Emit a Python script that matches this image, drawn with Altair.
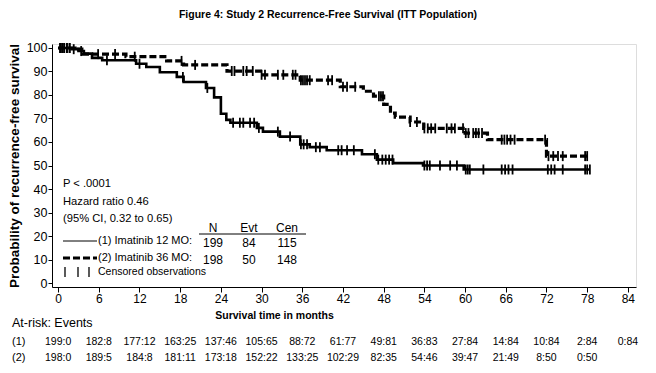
import altair as alt
import pandas as pd

FONT = "Liberation Sans, Arial, Helvetica, sans-serif"

# ---- data ----
t1 = [0, 2, 3, 3.8, 5, 6.5, 11.5, 13, 15, 17.5, 18.5, 21.8, 23, 24, 24.8, 25.4,
      29.3, 30.2, 32.7, 35.7, 37.1, 39.6, 44.8, 47, 49.4, 53.8, 59.8, 78.4]
s1 = [100, 99.5, 98.7, 97.6, 95.8, 94.8, 93.3, 91.9, 89.7, 87.7, 85.5, 83, 79, 72, 69.4, 68.2,
      66, 64.4, 62.3, 59, 57.8, 56.5, 54.8, 52.5, 51, 50, 48.3, 48.3]

t2 = [0, 2.5, 3.5, 10, 16, 18.5, 24.9, 29.8, 35.7, 41.6, 45, 46.5, 48, 49, 49.7,
      51.9, 53.9, 60, 63.3, 72, 78.3]
s2 = [100, 99.5, 97.4, 96.3, 94.5, 92.8, 90.2, 88.6, 86.3, 83.5, 81.6, 79.5, 76, 72.3, 70.6,
      68.5, 65.8, 63.8, 61, 54, 54]

cens1 = [0.3, 0.6, 0.9, 1.3, 1.7, 2.3, 3.4, 7.2, 12, 18.4, 22, 25.8, 26.8, 27.3, 28.3, 28.9,
         29.6, 32.4, 34.2, 35.8, 36.2, 36.7, 38, 38.6, 41.3, 41.8, 42.6, 43.6, 46.7, 47.2,
         47.8, 48.3, 48.8, 49.3, 54, 54.4, 54.8, 56.3, 57.8, 58.8, 60.1, 60.4, 60.7, 62.7,
         65.4, 65.9, 66.4, 67, 72.2, 72.7, 73.2, 74.4, 77.7, 78, 78.4]
cens2 = [0.3, 0.6, 0.9, 1.3, 1.7, 5.9, 8.4, 11.3, 18.2, 20.2, 25.6, 26, 27.3, 27.8, 28.7, 30,
         30.5, 32.4, 33.2, 34.6, 35, 35.8, 36.1, 36.4, 36.7, 37.1, 39.8, 40.4, 42, 42.6, 43.8,
         47.3, 47.6, 47.9, 51.9, 52.9, 54, 54.5, 55, 55.6, 57.3, 58, 58.5, 59.7, 60.1, 60.5,
         61.2, 61.6, 62, 62.5, 65.4, 65.8, 66.2, 66.7, 67.3, 71.8, 72.3, 73, 73.7, 74.4,
         77.7, 78]

x_ticks = list(range(0, 85, 6))
y_ticks = list(range(0, 101, 10))

risk_months1 = list(range(0, 85, 6))
risk1 = ["199:0", "182:8", "177:12", "163:25", "137:46", "105:65", "88:72", "61:77",
         "49:81", "36:83", "27:84", "14:84", "10:84", "2:84", "0:84"]
risk_months2 = list(range(0, 79, 6))
risk2 = ["198:0", "189:5", "184:8", "181:11", "173:18", "152:22", "133:25", "102:29",
         "82:35", "54:46", "39:47", "21:49", "8:50", "0:50"]

groups = ["(1) Imatinib 12 MO:", "(2) Imatinib 36 MO:"]
n_vals = ["199", "198"]
evt_vals = ["84", "50"]
cen_vals = ["115", "148"]

title_text = "Figure 4: Study 2 Recurrence-Free Survival (ITT Population)"
stats_lines = ["P < .0001", "Hazard ratio 0.46", "(95% CI, 0.32 to 0.65)"]


def step_value(ts, ss, t):
    v = ss[0]
    for ti, si in zip(ts, ss):
        if ti <= t:
            v = si
    return v


curve1 = pd.DataFrame({"t": t1, "s": s1})
curve2 = pd.DataFrame({"t": t2, "s": s2})
cdf1 = pd.DataFrame({"t": cens1, "s": [step_value(t1, s1, c) for c in cens1]})
cdf2 = pd.DataFrame({"t": cens2, "s": [step_value(t2, s2, c) for c in cens2]})

xs = alt.Scale(domain=[-0.9, 85.2], nice=False, zero=False)
ys = alt.Scale(domain=[-1.7, 101.7], nice=False, zero=False)

xax = alt.Axis(values=x_ticks, format="d", grid=False, tickSize=5, labelPadding=1,
               labelOverlap=False,
               labelFont=FONT, labelFontSize=12, labelColor="black", domainColor="black",
               tickColor="black", title="Survival time in months", titleFont=FONT,
               titleFontSize=10.5, titleFontWeight="bold", titleColor="black",
               titleX=222, titleY=23, titleAnchor="middle")
yax = alt.Axis(values=y_ticks, format="d", grid=False, tickSize=4, labelPadding=1,
               labelOverlap=False, tickCount=11,
               labelFont=FONT, labelFontSize=12.5, labelColor="black", domainColor="black",
               tickColor="black", title="Probability of recurrence-free survival",
               titleFont=FONT, titleFontSize=13.5, titleFontWeight="bold", titleColor="black",
               titlePadding=5)

X = alt.X("t:Q", scale=xs, axis=xax)
Y = alt.Y("s:Q", scale=ys, axis=yax)

line1 = alt.Chart(curve1).mark_line(interpolate="step-after", color="black",
                                    strokeWidth=2.6).encode(x=X, y=Y)
line2 = alt.Chart(curve2).mark_line(interpolate="step-after", color="black",
                                    strokeWidth=3.2, strokeDash=[7, 3]).encode(x=X, y=Y)
tick1 = alt.Chart(cdf1).mark_tick(orient="vertical", color="black", size=10, thickness=1.8,
                                  opacity=1).encode(x=X, y=Y)
tick2 = alt.Chart(cdf2).mark_tick(orient="vertical", color="black", size=10, thickness=1.8,
                                  opacity=1).encode(x=X, y=Y)


def label(txt, x, y, align="left", bold=False, size=11.5):
    return alt.Chart(pd.DataFrame({"txt": [txt]})).mark_text(
        align=align, baseline="middle", font=FONT, fontSize=size, color="black",
        fontWeight="bold" if bold else "normal").encode(
        text="txt:N", x=alt.value(x), y=alt.value(y))


layers = [line1, line2, tick1, tick2]

layers.append(label(title_text, 276, -29, align="center", bold=True, size=10.5))
for i, s in enumerate(stats_lines):
    layers.append(label(s, 11, 140 + 17.5 * i, size=11.2))

layers.append(label("N", 161, 184, align="center", size=12))
layers.append(label("Evt", 197, 184, align="center", size=12))
layers.append(label("Cen", 235, 184, align="center", size=12))
layers.append(alt.Chart(pd.DataFrame({"a": [0]})).mark_rule(color="black", strokeWidth=1).encode(
    x=alt.value(147), x2=alt.value(254), y=alt.value(190)))

row_y = [198, 215]
for i in range(2):
    layers.append(label(groups[i], 46, row_y[i] - 1, size=11))
    layers.append(label(n_vals[i], 161, row_y[i] + 1, align="center", size=12))
    layers.append(label(evt_vals[i], 197, row_y[i] + 1, align="center", size=12))
    layers.append(label(cen_vals[i], 235, row_y[i] + 1, align="center", size=12))

layers.append(alt.Chart(pd.DataFrame({"a": [0]})).mark_rule(color="black", strokeWidth=1).encode(
    x=alt.value(11), x2=alt.value(45), y=alt.value(197)))
layers.append(alt.Chart(pd.DataFrame({"a": [0]})).mark_rule(color="black", strokeWidth=3.2,
                                                             strokeDash=[7, 3]).encode(
    x=alt.value(11), x2=alt.value(45), y=alt.value(214)))
for cx in [13, 26, 37]:
    layers.append(alt.Chart(pd.DataFrame({"a": [0]})).mark_rule(color="black", strokeWidth=1.3).encode(
        x=alt.value(cx), y=alt.value(223), y2=alt.value(233)))
layers.append(label("Censored observations", 46, 228, size=10.5))

# at-risk table
layers.append(label("At-risk: Events", -40, 279, size=12.5))
layers.append(label("(1)", -40, 298, size=11))
layers.append(label("(2)", -40, 314, size=11))
r1 = pd.DataFrame({"t": risk_months1, "txt": risk1})
r2 = pd.DataFrame({"t": risk_months2, "txt": risk2})
layers.append(alt.Chart(r1).mark_text(align="center", baseline="middle", font=FONT, fontSize=10.5,
                                      color="black").encode(
    x=X, y=alt.value(298), text="txt:N"))
layers.append(alt.Chart(r2).mark_text(align="center", baseline="middle", font=FONT, fontSize=10.5,
                                      color="black").encode(
    x=X, y=alt.value(314), text="txt:N"))

chart = alt.layer(*layers).properties(
    width=584, height=243,
    autosize=alt.AutoSizeParams(type="none"),
    padding={"left": 44, "top": 36, "right": 12, "bottom": 78},
).configure_view(stroke=None).configure(background="white")

chart.save("out.html", embed_options={"renderer": "svg", "actions": False})
